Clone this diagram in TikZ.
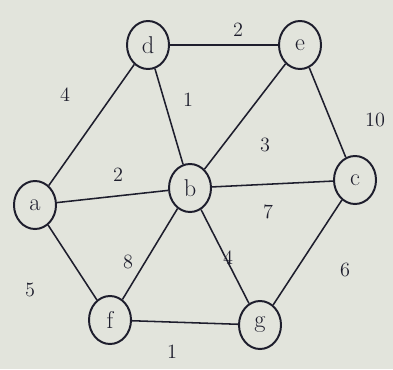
\documentclass[tikz,border=0pt]{standalone}
\usetikzlibrary{positioning, shapes.geometric}
\definecolor{paper}{RGB}{226, 228, 220}
\definecolor{ink}{RGB}{30, 30, 45}

\begin{document}
\begin{tikzpicture}[x=0.025cm, y=-0.025cm,
      vert/.style={draw=ink, ellipse, line width=1.4pt, minimum width=1.05cm,
                   minimum height=1.2cm, inner sep=0pt, font=\LARGE, text=ink},
      edge/.style={draw=ink, line width=1.1pt},
      wt/.style={font=\Large, text=ink}]
    \fill[paper] (0,0) rectangle (393,369);
    \node[vert] (d) at (148,45)  {d};
    \node[vert] (e) at (300,45)  {e};
    \node[vert] (a) at (35,205)  {a};
    \node[vert] (b) at (190,188) {b};
    \node[vert] (c) at (355,180) {c};
    \node[vert] (f) at (110,320) {f};
    \node[vert] (g) at (260,325) {g};
    \draw[edge] (d)--(e); \draw[edge] (d)--(a);
    \draw[edge] (d)--(b); \draw[edge] (e)--(b);
    \draw[edge] (e)--(c); \draw[edge] (a)--(b);
    \draw[edge] (b)--(c); \draw[edge] (a)--(f);
    \draw[edge] (b)--(f); \draw[edge] (b)--(g);
    \draw[edge] (c)--(g); \draw[edge] (f)--(g);
    \node[wt] (wde) at (238,30)  {2};
    \node[wt] (wda) at (65,95)   {4};
    \node[wt] (wdb) at (188,100) {1};
    \node[wt] (web) at (265,145) {3};
    \node[wt] (wec) at (375,120) {10};
    \node[wt] (wab) at (118,175) {2};
    \node[wt] (wbc) at (268,212) {7};
    \node[wt] (wbf) at (128,262) {8};
    \node[wt] (wbg) at (228,258) {4};
    \node[wt] (waf) at (30,290)  {5};
    \node[wt] (wcg) at (345,270) {6};
    \node[wt] (wfg) at (172,352) {1};
  \end{tikzpicture}
\end{document}
